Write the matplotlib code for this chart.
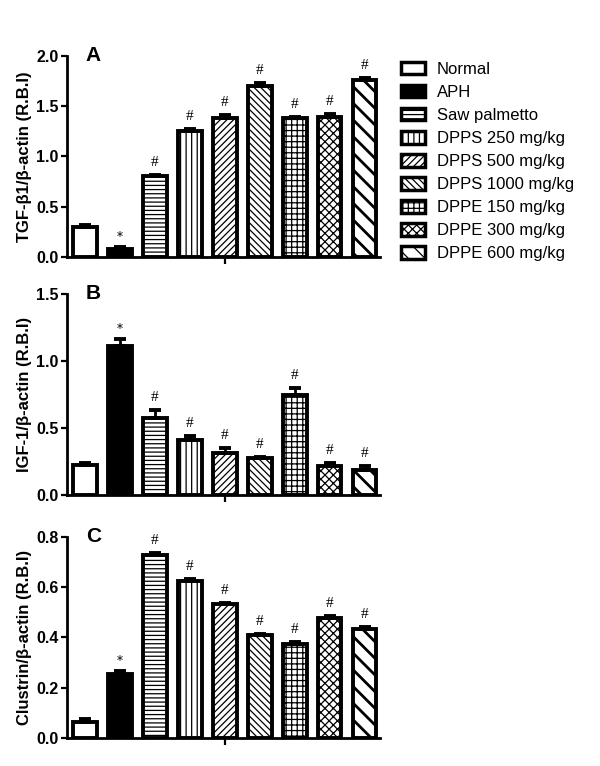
import matplotlib
matplotlib.use("Agg")
import matplotlib.pyplot as plt
from matplotlib.patches import Patch
import numpy as np

plt.rcParams['font.family'] = ['Liberation Sans', 'DejaVu Sans']
plt.rcParams['hatch.linewidth'] = 0.9

groups = ["Normal", "APH", "Saw palmetto", "DPPS 250 mg/kg", "DPPS 500 mg/kg",
          "DPPS 1000 mg/kg", "DPPE 150 mg/kg", "DPPE 300 mg/kg", "DPPE 600 mg/kg"]
hatches = ["", "", "----", "|||", "/////", "\\\\\\\\\\", "+++", "xxxx", "\\\\"]
hatch_lw = [0.9, 0.9, 0.9, 0.9, 0.9, 0.9, 0.9, 0.9, 2.0]
fills = ["white", "black"] + ["white"] * 7

tgf = [0.30, 0.08, 0.80, 1.25, 1.38, 1.70, 1.38, 1.39, 1.76]
tgf_err = [0.02, 0.015, 0.015, 0.02, 0.03, 0.025, 0.01, 0.03, 0.015]
tgf_sig = ["", "*", "#", "#", "#", "#", "#", "#", "#"]

igf = [0.22, 1.11, 0.57, 0.41, 0.31, 0.275, 0.745, 0.215, 0.185]
igf_err = [0.015, 0.05, 0.06, 0.03, 0.04, 0.01, 0.05, 0.02, 0.03]
igf_sig = ["", "*", "#", "#", "#", "#", "#", "#", "#"]

clu = [0.065, 0.255, 0.725, 0.625, 0.53, 0.41, 0.372, 0.475, 0.432]
clu_err = [0.01, 0.01, 0.01, 0.005, 0.005, 0.003, 0.01, 0.01, 0.01]
clu_sig = ["", "*", "#", "#", "#", "#", "#", "#", "#"]

panels = [
    ("A", tgf, tgf_err, tgf_sig, "TGF-\u03b21/\u03b2-actin (R.B.I)", 2.0, [0.0, 0.5, 1.0, 1.5, 2.0], 0.6645),
    ("B", igf, igf_err, igf_sig, "IGF-1/\u03b2-actin (R.B.I)", 1.5, [0.0, 0.5, 1.0, 1.5], 0.3538),
    ("C", clu, clu_err, clu_sig, "Clustrin/\u03b2-actin (R.B.I)", 0.8, [0.0, 0.2, 0.4, 0.6, 0.8], 0.0366),
]


def set_hlw(patch, lw):
    try:
        patch.set_hatch_linewidth(lw)
    except AttributeError:
        patch._hatch_linewidth = lw


fig = plt.figure(figsize=(6, 7.66), dpi=100)
x = np.arange(len(groups))
for letter, vals, errs, sig, ylab, ymax, ticks, bottom in panels:
    ax = fig.add_axes([0.1117, bottom, 0.522, 0.263])
    for i in range(len(groups)):
        bars = ax.bar(x[i], vals[i], width=0.68, color=fills[i], edgecolor="black",
                      linewidth=2.8, hatch=hatches[i], zorder=2)
        for b in bars:
            set_hlw(b, hatch_lw[i])
    ax.errorbar(x, vals, yerr=[np.zeros(len(vals)), errs], fmt="none", ecolor="black",
                elinewidth=2, capsize=4, capthick=2.8, zorder=3)
    for i, s in enumerate(sig):
        if not s:
            continue
        top = vals[i] + errs[i]
        if s == "*":
            ax.text(x[i], top + ymax * 0.015, s, ha="center", va="bottom", fontsize=8.5,
                    family="DejaVu Serif")
        else:
            ax.text(x[i], top + ymax * 0.03, s, ha="center", va="bottom", fontsize=11,
                    family=["Liberation Serif", "DejaVu Serif"])
    ax.set_xlim(-0.52, 8.45)
    ax.set_ylim(0, ymax)
    ax.set_yticks(ticks)
    ax.set_yticklabels(["{:.1f}".format(t) for t in ticks], fontsize=11.5, fontweight="bold")
    ax.set_xticks([4])
    ax.set_xticklabels([""])
    ax.tick_params(axis="y", width=1.6, length=4, pad=2)
    ax.tick_params(axis="x", width=1.6, length=5)
    for sp in ["top", "right"]:
        ax.spines[sp].set_visible(False)
    for sp in ["left", "bottom"]:
        ax.spines[sp].set_linewidth(2)
    ax.set_ylabel(ylab, fontsize=12, fontweight="bold", labelpad=3)
    ax.text(0.06, 1.0, letter, transform=ax.transAxes, fontsize=15, fontweight="bold",
            ha="left", va="center")

handles = []
for i in range(len(groups)):
    h = Patch(facecolor=fills[i], edgecolor="black", linewidth=2.5, hatch=hatches[i],
              label=groups[i])
    set_hlw(h, hatch_lw[i])
    handles.append(h)
fig.legend(handles=handles, loc="upper left", bbox_to_anchor=(0.657, 0.928), frameon=False,
           fontsize=12, handlelength=1.45, handleheight=0.78, labelspacing=0.48,
           handletextpad=0.72, borderaxespad=0)

fig.savefig("out.png", dpi=100, facecolor="white")
